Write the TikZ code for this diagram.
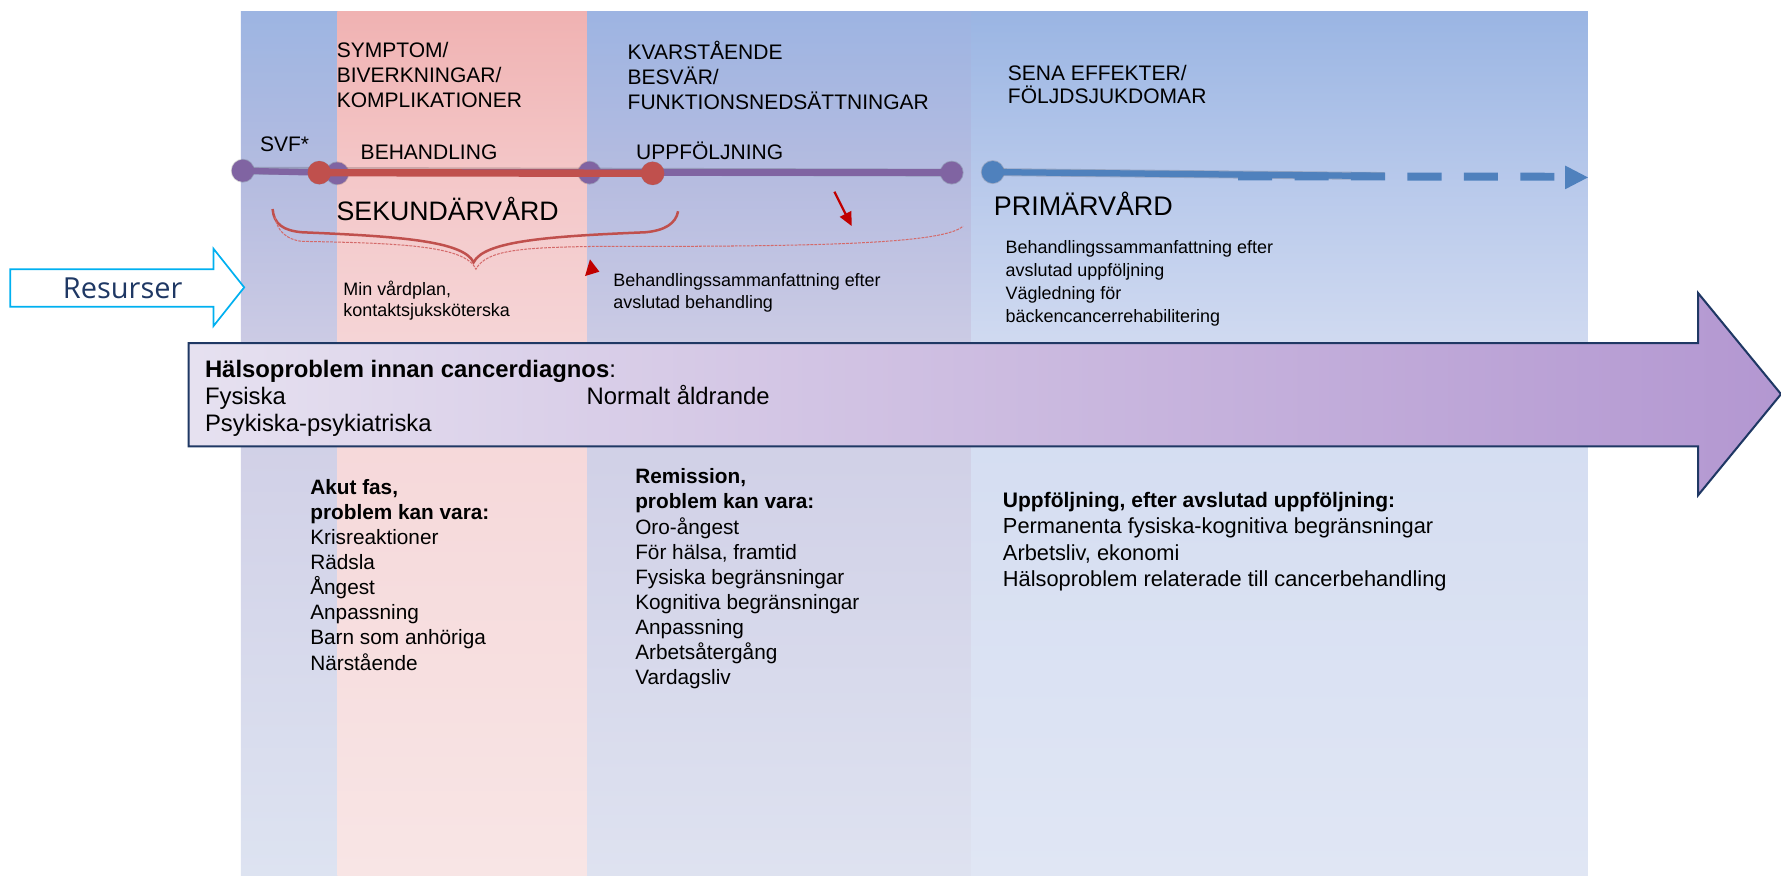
\documentclass[tikz,border=0pt]{standalone}
\usepackage{fontspec}
\setmainfont{Liberation Sans}
\newfontfamily\resfont{Open Sans}
\usetikzlibrary{arrows.meta}
\definecolor{tlpurple}{HTML}{8064A2}
\definecolor{tlred}{HTML}{C0504D}
\definecolor{tlblue}{HTML}{4F81BD}
\definecolor{darkred}{HTML}{C00000}
\definecolor{navy}{HTML}{1F3864}
\definecolor{cyanA}{HTML}{00B0F0}
\definecolor{braceThin}{HTML}{D46A6A}
\definecolor{cA0}{HTML}{9DB5E2}\definecolor{cA1}{HTML}{B5BCE0}\definecolor{cA2}{HTML}{CFCDE5}\definecolor{cA3}{HTML}{DDE3F1}
\definecolor{cB0}{HTML}{F0B2B2}\definecolor{cB1}{HTML}{F4C8C9}\definecolor{cB2}{HTML}{F5D6D8}\definecolor{cB3}{HTML}{F8E5E5}
\definecolor{cC0}{HTML}{9DB4E2}\definecolor{cC1}{HTML}{B6BCE0}\definecolor{cC2}{HTML}{CECDE5}\definecolor{cC3}{HTML}{DEE2F0}
\definecolor{cD0}{HTML}{9AB5E3}\definecolor{cD1}{HTML}{B8C9EB}\definecolor{cD2}{HTML}{D3DCF1}\definecolor{cD3}{HTML}{E0E6F4}
\definecolor{arrL}{HTML}{E6E1F0}
\definecolor{arrR}{HTML}{B397D1}
\newcommand\mylines[1]{\parbox[t]{14cm}{\raggedright #1}}
\newcommand\colshade[6]{%
  \shade[top color=#3, bottom color=#4] (#1,10) rectangle (#2,160.5);
  \shade[top color=#4, bottom color=#5] (#1,160) rectangle (#2,320.5);
  \shade[top color=#5, bottom color=#6] (#1,320) rectangle (#2,771);}
\begin{document}
\begin{tikzpicture}[x=1pt,y=-1pt,
  lbl/.style={anchor=base west,inner sep=0pt,outer sep=0pt,text=black},
  capsf/.style={font=\fontsize{18.5}{22}\selectfont},
  smallf/.style={font=\fontsize{15.8}{19}\selectfont},
  listf/.style={font=\fontsize{18.3}{22.1}\selectfont},
  pdot/.style={circle,fill=tlpurple,minimum size=19.5pt,inner sep=0pt},
  rdot/.style={circle,fill=tlred,minimum size=20.5pt,inner sep=0pt},
  bdot/.style={circle,fill=tlblue,minimum size=19.5pt,inner sep=0pt},
  sdot/.style={circle,fill=black,opacity=0.16,minimum size=21pt,inner sep=0pt},
  shline/.style={black,opacity=0.16,line width=7pt},
]
\useasboundingbox (0,0) rectangle (1568,771);
\fill[white] (0,0) rectangle (1568,771);
% columns
\colshade{212}{297.5}{cA0}{cA1}{cA2}{cA3}
\colshade{297}{517.5}{cB0}{cB1}{cB2}{cB3}
\colshade{517}{855.5}{cC0}{cC1}{cC2}{cC3}
\colshade{855}{1398}{cD0}{cD1}{cD2}{cD3}

% coordinates of timeline
\coordinate (P1) at (213.7,150.3);
\coordinate (R1) at (281.1,152);
\coordinate (P2) at (297,152.6);
\coordinate (P3) at (518.9,152);
\coordinate (R2) at (574.6,152.6);
\coordinate (P4) at (837.9,152);
\coordinate (B1) at (874,151.5);
\coordinate (Bs) at (1219,155);
\coordinate (Bd1) at (1090,155.2);
\coordinate (Bd2) at (1368.5,155.6);

% shadows
\begin{scope}[shift={(1.5,3.5)}]
  \draw[shline] (P1) -- (P4);
  \draw[shline] (B1) -- (Bs);
  \foreach \c in {P1,R1,P2,P3,R2,P4,B1} \node[sdot] at (\c) {};
\end{scope}

% timeline
\draw[tlpurple, line width=5.5pt] (P1) -- (R1);
\draw[tlpurple, line width=6pt] (R1) -- (P4);
\node[pdot] (dP1) at (P1) {};
\node[pdot] (dP2) at (P2) {};
\node[pdot] (dP3) at (P3) {};
\node[pdot] (dP4) at (P4) {};
\draw[tlred, line width=6.5pt] (R1) -- (R2);
\node[rdot] (dR1) at (R1) {};
\node[rdot] (dR2) at (R2) {};
\draw[tlblue, line width=5.5pt] (B1) -- (Bs);
\draw[tlblue, line width=7pt, dash pattern=on 30pt off 19.7pt] (Bd1) -- (Bd2);
\fill[tlblue] (1378,145.8) -- (1398,156.2) -- (1378,166.6) -- cycle;
\node[bdot] (dB1) at (B1) {};

% labels top
\node[lbl,capsf] (svf) at (229,133) {SVF*};
\node[lbl,capsf] (beh) at (317.6,140.5) {BEHANDLING};
\node[lbl,capsf] (upp) at (560,140.5) {UPPFÖLJNING};
\node[lbl,capsf] (sym) at (296.5,51) {\mylines{SYMPTOM/\\BIVERKNINGAR/\\KOMPLIKATIONER}};
\node[lbl,capsf] (kva) at (552.6,52.5) {\mylines{KVARSTÅENDE\\BESVÄR/\\FUNKTIONSNEDSÄTTNINGAR}};
\node[lbl,capsf,font=\fontsize{18.5}{20.5}\selectfont] (sena) at (887.4,70.5) {\mylines{SENA EFFEKTER/\\FÖLJDSJUKDOMAR}};
\node[lbl,font=\fontsize{23.5}{26}\selectfont] (sek) at (296.4,194.5) {SEKUNDÄRVÅRD};
\node[lbl,font=\fontsize{23.7}{26}\selectfont] (prim) at (875,189.5) {PRIMÄRVÅRD};

% braces
\draw[tlred, line width=2.2pt] (240,184) .. controls (241,197) and (249,203) .. (266,204.5)
  .. controls (350,208) and (408,212) .. (417,231)
  .. controls (426,212) and (484,208) .. (568,204.5)
  .. controls (585,203) and (595,197) .. (597,186);
\draw[braceThin, line width=0.9pt, dash pattern=on 2.5pt off 1pt] (242,191) .. controls (244,203) and (252,211) .. (266,212.5)
  .. controls (350,214) and (410,216) .. (419,237)
  .. controls (428,220) and (460,218) .. (520,217)
  .. controls (700,217) and (830,216) .. (848,199);

% red arrows
\coordinate (ra1) at (734.6,168.8);
\coordinate (ra2) at (749.8,199);
\draw[darkred, line width=2pt, -{Triangle[length=12pt,width=11pt]}] (ra1) -- (ra2);
\fill[darkred] (519.4,228.3) -- (527.7,239.2) -- (515.1,243) -- cycle;

% small texts
\node[lbl,smallf,font=\fontsize{15.8}{18}\selectfont] (minv) at (302.3,260.5) {\mylines{Min vårdplan,\\kontaktsjuksköterska}};
\node[lbl,smallf] (bsa) at (540,252.4) {\mylines{Behandlingssammanfattning efter\\avslutad behandling}};
\node[lbl,smallf,font=\fontsize{15.8}{20.3}\selectfont] (bsb) at (885.4,223) {\mylines{Behandlingssammanfattning efter\\avslutad uppföljning\\Vägledning för\\bäckencancerrehabilitering}};

% Resurser arrow
\path[draw=cyanA, line width=1.5pt, fill=white] (9,237) -- (188,237) -- (188,219) -- (215,253) -- (188,287) -- (188,270) -- (9,270) -- cycle;
\node[anchor=base, inner sep=0pt, text=navy, font=\resfont\fontsize{25.5}{28}\selectfont] (res) at (108,263) {Resurser};

% big arrow
\path[draw=navy, line width=1.8pt, left color=arrL, right color=arrR] (166,302) -- (1495,302) -- (1495,258) -- (1568,347) -- (1495,436) -- (1495,393) -- (166,393) -- cycle;
\node[lbl,font=\fontsize{21}{24}\selectfont] (halso) at (180.5,332) {\mylines{\textbf{Hälsoproblem innan cancerdiagnos}:\\Fysiska\\Psykiska-psykiatriska}};
\node[lbl,font=\fontsize{21}{24}\selectfont] (norm) at (516.5,356.5) {Normalt åldrande};

% lower lists
\node[lbl,listf] (akut) at (273.2,435.2) {\mylines{\textbf{Akut fas,}\\\textbf{problem kan vara:}\\Krisreaktioner\\Rädsla\\Ångest\\Anpassning\\Barn som anhöriga\\Närstående}};
\node[lbl,listf] (rem) at (559.3,426) {\mylines{\textbf{Remission,}\\\textbf{problem kan vara:}\\Oro-ångest\\För hälsa, framtid\\Fysiska begränsningar\\Kognitiva begränsningar\\Anpassning\\Arbetsåtergång\\Vardagsliv}};
\node[lbl,font=\fontsize{19.2}{23.3}\selectfont] (uppf) at (883,446.5) {\mylines{{\fontsize{18.5}{23.3}\selectfont\textbf{Uppföljning, efter avslutad uppföljning:}}\\Permanenta fysiska-kognitiva begränsningar\\Arbetsliv, ekonomi\\Hälsoproblem relaterade till cancerbehandling}};
\end{tikzpicture}
\end{document}
